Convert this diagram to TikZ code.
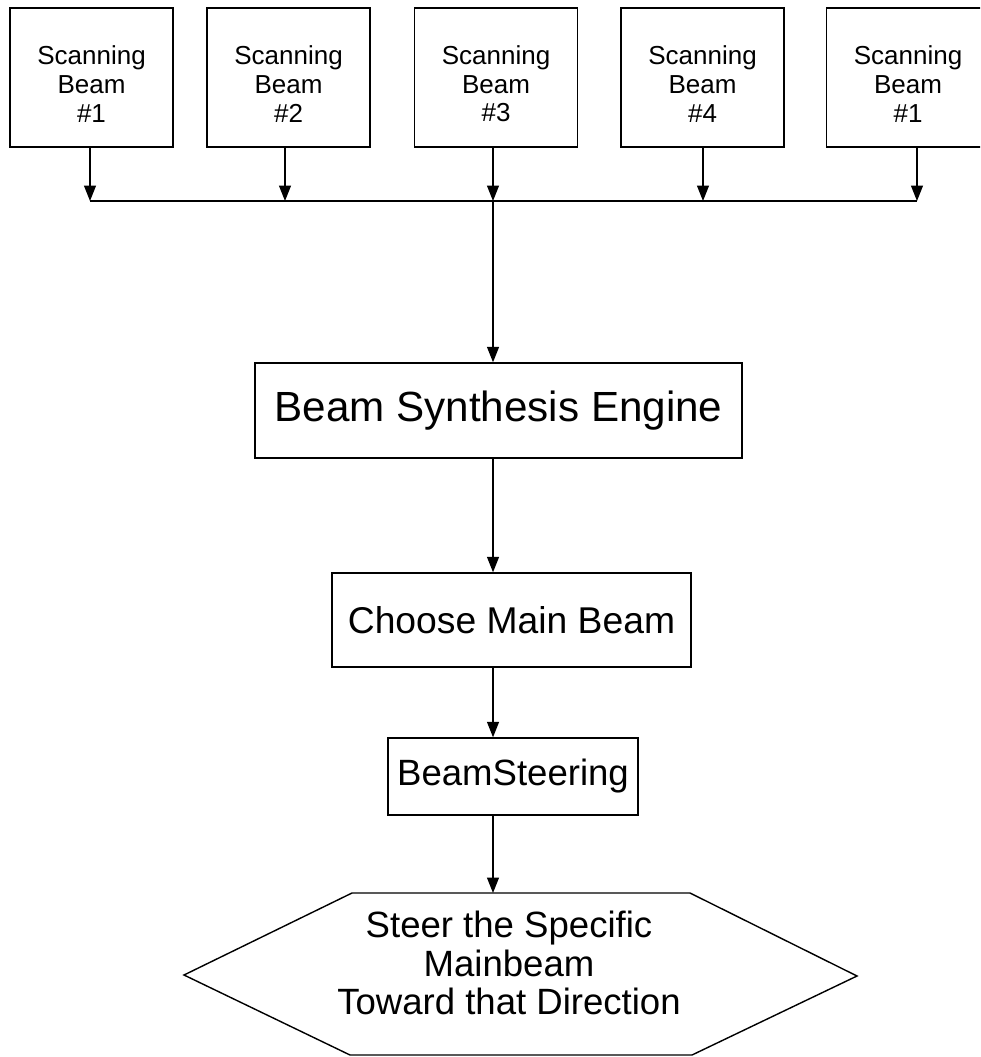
\documentclass[tikz,border=0pt]{standalone}
\usepackage{fontspec}
\setmainfont{Liberation Sans}
\usetikzlibrary{arrows.meta,calc,positioning}

\begin{document}
\begin{tikzpicture}[x=0.025cm,y=-0.025cm,
  box/.style={draw,line width=1pt,align=center,inner sep=0pt},
  flow/.style={line width=1pt,-{Triangle[length=11pt,width=8.5pt]}}]
  \clip (0,0) rectangle (980,1057);
  \foreach \i/\bx/\jx/\n in {1/91.5/90/1,2/288.5/285/2,3/496/493/3,4/702.5/703/4,5/908/917/1}{
    \node[box,minimum width=4.075cm,minimum height=3.475cm] (b\i) at (\bx,77.5) {};
    \node[align=center,font={\fontsize{18.5}{20.5}\selectfont}] (t\i)
      at ([yshift=-4.5pt]b\i.center) {Scanning\\Beam\\\#\n};
    \coordinate (j\i) at (\jx,201);
    \draw[flow] (b\i.south -| j\i) -- (j\i);
  }
  \draw[line width=1pt] (j1) -- (j5);
  \node[box,minimum width=12.175cm,minimum height=2.375cm,
    font={\fontsize{30}{32}\selectfont}] (bse) at (498.5,410.5) {Beam Synthesis Engine};
  \node[box,minimum width=8.975cm,minimum height=2.35cm,
    font={\fontsize{26.5}{28}\selectfont}] (cmb) at (511.5,620) {Choose Main Beam};
  \node[box,minimum width=6.25cm,minimum height=1.925cm,
    font={\fontsize{26}{28}\selectfont}] (bst) at (513,776.5) {BeamSteering};
  \draw[line width=1pt] (184,975) -- (352,893) -- (690,893) -- (857,976)
    -- (692,1055) -- (350,1055) -- cycle;
  \node[align=center,font={\fontsize{26}{27.5}\selectfont}] (steer) at (509,963)
    {Steer the Specific\\Mainbeam\\Toward that Direction};
  \coordinate (hextop) at (493,893);
  \draw[flow] (j3) -- (j3 |- bse.north);
  \draw[flow] (bse.south -| j3) -- (cmb.north -| j3);
  \draw[flow] (cmb.south -| j3) -- (bst.north -| j3);
  \draw[flow] (bst.south -| j3) -- (hextop);
\end{tikzpicture}
\end{document}
